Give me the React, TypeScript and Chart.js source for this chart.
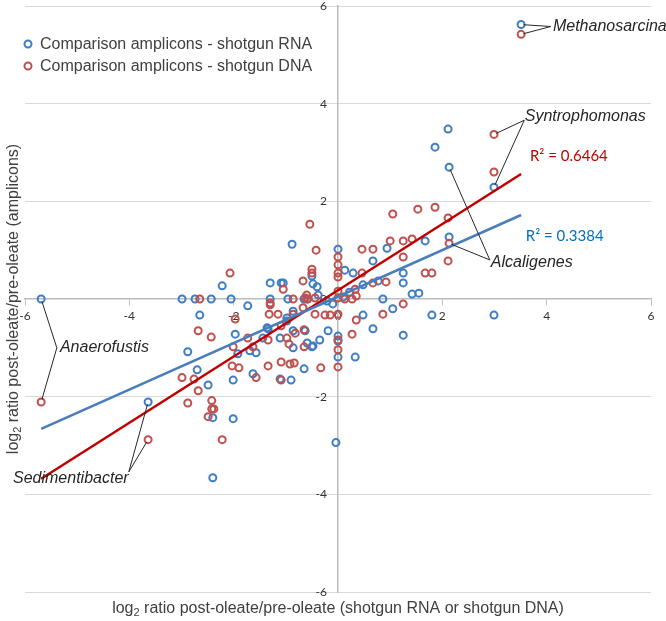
import React, { useEffect, useRef } from "react";
import { Chart, registerables } from "chart.js";

Chart.register(...registerables);

// ---- data (log2 ratios) ----
const rnaX = [3.51, -5.69, -3.64, 2.99, 2.13, 2.13, 2.11, 1.86, 2.99, 1.8, 1.25, 0.94, 1.67, 1.25, 1.25, 1.42, 1.55, 0.86, 1.05, 0.67, 0.48, 0.13, 0.29, 0, 0.48, 0.67, 0, 0, 0.33, -0.04, -0.65, -0.9, -1.11, -0.86, -0.5, -0.35, -0.38, -0.21, -0.5, -0.48, -1.3, -1.09, -1.05, -1.3, -0.96, -0.59, -0.65, -0.86, -0.98, -1.36, -0.19, -1.44, -1.11, -2.99, -2.74, -2.43, -2.05, -2.65, -2.22, -1.73, -0.88, -0.4, -1.97, -1.69, -1.57, -1.92, -1.34, -0.86, -0.63, -0.59, -0.48, -1.63, -2.01, -2.49, -2.7, -2.88, -0.98, -2.4, -2.01, -2.4, 0, 0.1, 0.22, -0.1, 0.77];
const rnaY = [5.62, 0, -2.11, 2.29, 2.7, 1.27, 3.48, 3.11, -0.33, -0.33, -0.74, 1.04, 1.19, 0.53, 0.33, 0.1, 0.12, 0, -0.2, 0.78, 0.29, 0.59, 0.53, 1.02, -0.33, -0.61, -0.76, -1.19, -1.19, -2.94, -1.43, -1.66, -1.64, -1.0, -0.98, -0.84, 0.08, -0.04, 0.47, 0.31, 0.33, 0.33, 0.33, 0, 0, 0, 0, -0.25, -0.45, -0.59, -0.65, -0.8, -0.8, 0, 0, 0, 0, -0.33, 0.27, -0.14, 1.12, 0.25, -0.72, -1.06, -1.1, -1.12, -0.61, -0.65, -0.65, -0.9, -0.96, -1.53, -1.66, -1.76, -1.45, -1.08, -0.39, -2.43, -2.45, -3.66, -0.86, 0.04, 0.14, -0.1, 0.37];

const dnaX = [3.51, -5.69, -3.64, 2.99, 2.13, 2.99, 1.05, 1.53, 1.86, 2.11, 1.0, 1.25, 1.42, 2.11, 1.25, 1.67, 1.8, 0.92, 0.86, 1.25, 0.46, 0.67, 0.46, 0.67, 0.33, 0.13, 0.27, 0.35, 0, 0.27, 0, 0, 0, 0, 0, 0, 0, -0.54, -0.42, -0.5, -0.5, -0.67, -1.05, -1.3, -1.3, -0.86, -0.63, -0.58, -0.44, 0, 0, 0.35, -0.67, -0.44, -0.25, -0.15, -1.15, -0.86, -1.09, -0.82, -0.65, -2.07, -2.65, -1.97, -2.68, -2.43, -2.01, -1.73, -1.63, -1.34, -0.98, -2.03, -1.9, -1.34, -1.09, -0.92, -0.84, -0.33, -1.09, -1.57, -2.76, -2.99, -2.68, -2.88, -2.42, -2.42, -2.38, -2.49, -2.22, -0.65, -0.94, -0.6, -1.32];
const dnaY = [5.42, -2.11, -2.88, 3.37, 1.14, 2.6, 1.74, 1.84, 1.88, 1.66, 1.19, 1.19, 1.23, 0.78, 0.86, 0.53, 0.53, 0.35, -0.31, -0.1, 1.02, 1.02, 0.53, 0.33, 0.2, 0, 0, -0.43, -0.31, -0.72, -0.84, -1.04, -1.39, 0.86, 0.7, 0.53, 0.45, 1.53, 1.0, 0.61, 0.53, 0.37, 0.2, -0.08, -0.12, 0, 0.02, 0, 0.02, 0.16, 0.02, 0.06, -0.18, -0.31, -0.33, -0.33, -0.31, -0.31, -0.55, -0.7, -0.63, 0.53, 0, -0.41, -0.65, -0.78, -0.98, -0.8, -0.98, -0.84, -0.8, -1.37, -1.41, -1.37, -1.29, -1.33, -1.31, -1.41, -1.66, -1.61, -1.64, -1.61, -1.88, -2.13, -2.08, -2.25, -2.25, -2.41, -2.88, -0.98, -0.92, 0.08, -0.31];

// linear trend lines (endpoints over the data range)
const trendX = [-5.69, 3.51];
const rnaTrendY = [-2.66, 1.72];
const dnaTrendY = [-3.68, 2.56];

const axisMin = -6;
const axisMax = 6;
const axisStep = 2;

const seriesNames = ["Comparison amplicons - shotgun RNA", "Comparison amplicons - shotgun DNA"];
const rSquaredLabels = ["R\u00B2 = 0.3384", "R\u00B2 = 0.6464"];
const xTitleParts = ["log", "2", " ratio post-oleate/pre-oleate (shotgun RNA or shotgun DNA)"];
const yTitleParts = ["log", "2", " ratio post-oleate/pre-oleate (amplicons)"];

// ---- styles ----
const BLUE = "#3f7dc5";
const RED = "#c0504d";
const BLUE_TREND = "#4a7ebb";
const RED_TREND = "#c00000";
const BLUE_TEXT = "#0070c0";
const TEXT = "#404040";
const LABEL = "#262626";
const TICK_FONT = '12px Lato, "Open Sans", sans-serif';

// callout placement (data coordinates for label and elbow), targets are indices into the series
const callouts = [
  { label: "Methanosarcina", text: [4.12, 5.58], anchor: [4.08, 5.58], rna: [0], dna: [0] },
  { label: "Syntrophomonas", text: [3.58, 3.74], anchor: [3.57, 3.66], rna: [3], dna: [3] },
  { label: "Alcaligenes", text: [2.93, 0.74], anchor: [2.91, 0.8], rna: [4], dna: [4] },
  { label: "Anaerofustis", text: [-5.33, -1.0], anchor: [-5.39, -1.0], rna: [1], dna: [1] },
  { label: "Sedimentibacter", text: [-6.23, -3.68], anchor: [-4.01, -3.54], rna: [2], dna: [2] },
];
const rSquaredPos = [
  [3.6, 1.29],
  [3.68, 2.92],
];

function drawSubTitle(ctx: CanvasRenderingContext2D, parts: string[], cx: number, baseY: number) {
  const big = '16px "Liberation Sans", Arial, sans-serif';
  const small = '11px "Liberation Sans", Arial, sans-serif';
  ctx.font = big;
  const w1 = ctx.measureText(parts[0]).width;
  const w3 = ctx.measureText(parts[2]).width;
  ctx.font = small;
  const w2 = ctx.measureText(parts[1]).width;
  const total = w1 + w2 + w3;
  let x = cx - total / 2;
  ctx.textAlign = "left";
  ctx.textBaseline = "alphabetic";
  ctx.font = big;
  ctx.fillText(parts[0], x, baseY);
  x += w1;
  ctx.font = small;
  ctx.fillText(parts[1], x, baseY + 3);
  x += w2;
  ctx.font = big;
  ctx.fillText(parts[2], x, baseY);
}

const overlayPlugin = {
  id: "overlay",
  beforeDatasetsDraw(chart: any) {
    // y tick labels, right-aligned to the left of the vertical axis
    const ctx: CanvasRenderingContext2D = chart.ctx;
    const xs = chart.scales.x;
    const ys = chart.scales.y;
    const axisX = xs.getPixelForValue(0);
    ctx.save();
    ctx.font = TICK_FONT;
    ctx.fillStyle = "#333";
    ctx.textAlign = "right";
    ctx.textBaseline = "middle";
    for (const t of ys.ticks) {
      ctx.fillText(String(t.value), axisX - 11, ys.getPixelForValue(t.value));
    }
    ctx.restore();
  },
  afterDraw(chart: any) {
    const ctx: CanvasRenderingContext2D = chart.ctx;
    const xs = chart.scales.x;
    const ys = chart.scales.y;
    const area = chart.chartArea;
    const px = (v: number) => xs.getPixelForValue(v);
    const py = (v: number) => ys.getPixelForValue(v);
    ctx.save();

    // callouts
    for (const c of callouts) {
      const ax = px(c.anchor[0]);
      const ay = py(c.anchor[1]);
      const targets: number[][] = [
        ...c.rna.map((i) => [rnaX[i], rnaY[i]]),
        ...c.dna.map((i) => [dnaX[i], dnaY[i]]),
      ];
      ctx.strokeStyle = LABEL;
      ctx.lineWidth = 1;
      for (const t of targets) {
        const qx = px(t[0]);
        const qy = py(t[1]);
        const d = Math.hypot(ax - qx, ay - qy) || 1;
        const r = 2.5;
        ctx.beginPath();
        ctx.moveTo(qx + ((ax - qx) / d) * r, qy + ((ay - qy) / d) * r);
        ctx.lineTo(ax, ay);
        ctx.stroke();
      }
      ctx.font = 'italic 16px "Liberation Sans", Arial, sans-serif';
      ctx.fillStyle = LABEL;
      ctx.textAlign = "left";
      ctx.textBaseline = "middle";
      ctx.fillText(c.label, px(c.text[0]), py(c.text[1]));
    }

    // R² labels
    ctx.font = '15px Lato, "Open Sans", sans-serif';
    ctx.textAlign = "left";
    ctx.textBaseline = "middle";
    ctx.fillStyle = BLUE_TEXT;
    ctx.fillText(rSquaredLabels[0], px(rSquaredPos[0][0]), py(rSquaredPos[0][1]));
    ctx.fillStyle = RED_TREND;
    ctx.fillText(rSquaredLabels[1], px(rSquaredPos[1][0]), py(rSquaredPos[1][1]));

    // legend
    const colors = [BLUE, RED];
    for (let i = 0; i < seriesNames.length; i++) {
      const lx = area.left + 3;
      const ly = area.top + 38 + i * 22;
      ctx.beginPath();
      ctx.arc(lx, ly, 3.5, 0, Math.PI * 2);
      ctx.strokeStyle = colors[i];
      ctx.lineWidth = 2;
      ctx.stroke();
      ctx.font = '16px "Liberation Sans", Arial, sans-serif';
      ctx.fillStyle = TEXT;
      ctx.textAlign = "left";
      ctx.textBaseline = "middle";
      ctx.fillText(seriesNames[i], lx + 12, ly + 1);
    }

    // axis titles
    ctx.fillStyle = TEXT;
    drawSubTitle(ctx, xTitleParts, (area.left + area.right) / 2, chart.height - 8);
    ctx.save();
    ctx.translate(12, (area.top + area.bottom) / 2);
    ctx.rotate(-Math.PI / 2);
    drawSubTitle(ctx, yTitleParts, 0, 6);
    ctx.restore();

    ctx.restore();
  },
};

function toPoints(xs: number[], ys: number[]) {
  return xs.map((x, i) => ({ x, y: ys[i] }));
}

export default function App() {
  const canvasRef = useRef<HTMLCanvasElement | null>(null);

  useEffect(() => {
    const canvas = canvasRef.current;
    if (!canvas) return;
    const tickFont = { family: 'Lato, "Open Sans", sans-serif', size: 12 };
    const chart = new Chart(canvas, {
      type: "scatter",
      data: {
        datasets: [
          {
            label: "RNA trend",
            data: toPoints(trendX, rnaTrendY),
            showLine: true,
            borderColor: BLUE_TREND,
            borderWidth: 2.5,
            pointRadius: 0,
            order: 0,
          },
          {
            label: "DNA trend",
            data: toPoints(trendX, dnaTrendY),
            showLine: true,
            borderColor: RED_TREND,
            borderWidth: 2.5,
            pointRadius: 0,
            order: 0,
          },
          {
            label: seriesNames[1],
            data: toPoints(dnaX, dnaY),
            borderColor: RED,
            backgroundColor: "rgba(0,0,0,0)",
            pointRadius: 3.5,
            pointBorderWidth: 2,
            order: 1,
          },
          {
            label: seriesNames[0],
            data: toPoints(rnaX, rnaY),
            borderColor: BLUE,
            backgroundColor: "rgba(0,0,0,0)",
            pointRadius: 3.5,
            pointBorderWidth: 2,
            order: 2,
          },
        ],
      },
      options: {
        animation: false,
        responsive: true,
        maintainAspectRatio: false,
        layout: { padding: { left: 25, right: 15, top: 5, bottom: 29 } },
        plugins: { legend: { display: false }, tooltip: { enabled: false } },
        scales: {
          x: {
            type: "linear",
            min: axisMin,
            max: axisMax,
            position: { y: 0 } as any,
            ticks: { stepSize: axisStep, padding: 4, color: "#333", font: tickFont },
            grid: { drawOnChartArea: false, drawTicks: true, tickLength: 6, color: "#bfbfbf" },
            border: { color: "#bcbcbc", width: 1.5 },
            afterFit: (s: any) => {
              s.paddingLeft = 0;
              s.paddingRight = 0;
            },
          },
          y: {
            type: "linear",
            min: axisMin,
            max: axisMax,
            position: { x: 0 } as any,
            ticks: { stepSize: axisStep, display: false },
            grid: {
              color: (c: any) => (c.tick && c.tick.value === 0 ? "rgba(0,0,0,0)" : "#d9d9d9"),
              tickLength: 6,
            },
            border: { color: "#bcbcbc", width: 1.5 },
            afterFit: (s: any) => {
              s.paddingTop = 0;
              s.paddingBottom = 0;
            },
          },
        },
      },
      plugins: [overlayPlugin],
    } as any);
    return () => chart.destroy();
  }, []);

  return (
    <div style={{ position: "absolute", left: 0, top: 0, width: 666, height: 621, background: "#fff" }}>
      <canvas ref={canvasRef} />
    </div>
  );
}
